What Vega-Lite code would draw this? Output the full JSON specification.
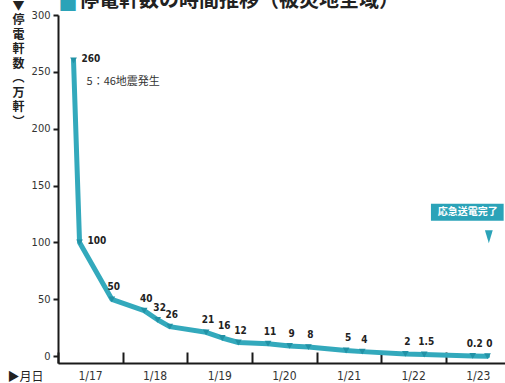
{
  "$schema": "https://vega.github.io/schema/vega-lite/v6.json",
  "width": 447,
  "height": 348,
  "autosize": {"type": "none"},
  "padding": {"left": 58, "top": 15, "right": 0, "bottom": 20},
  "background": "#ffffff",
  "title": {
    "text": "停電軒数の時間推移（被災地全域）",
    "anchor": "start",
    "frame": "group",
    "dx": 21,
    "dy": 13,
    "offset": -3,
    "font": "Noto Sans CJK JP",
    "fontSize": 20,
    "fontWeight": "bold",
    "color": "#222222"
  },
  "config": {
    "view": {"stroke": null},
    "axis": {
      "grid": false,
      "domainColor": "#1a1a1a",
      "domainWidth": 2,
      "tickColor": "#1a1a1a",
      "labelColor": "#333333",
      "labelFont": "Liberation Sans Narrow, DejaVu Sans Condensed, sans-serif",
      "titleFont": "Noto Sans CJK JP",
      "titleColor": "#222222",
      "titleFontWeight": "normal"
    }
  },
  "resolve": {"axis": {"x": "independent"}},
  "datasets": {
    "outage": [
      {"t": "1995-01-17T05:46", "v": 260},
      {"t": "1995-01-17T08:00", "v": 100},
      {"t": "1995-01-17T20:00", "v": 50},
      {"t": "1995-01-18T08:00", "v": 40},
      {"t": "1995-01-18T13:00", "v": 32},
      {"t": "1995-01-18T17:30", "v": 26},
      {"t": "1995-01-19T07:00", "v": 21},
      {"t": "1995-01-19T13:00", "v": 16},
      {"t": "1995-01-19T19:00", "v": 12},
      {"t": "1995-01-20T06:00", "v": 11},
      {"t": "1995-01-20T14:00", "v": 9},
      {"t": "1995-01-20T21:00", "v": 8},
      {"t": "1995-01-21T11:00", "v": 5},
      {"t": "1995-01-21T17:00", "v": 4},
      {"t": "1995-01-22T09:00", "v": 2},
      {"t": "1995-01-22T16:00", "v": 1.5},
      {"t": "1995-01-23T10:00", "v": 0.2},
      {"t": "1995-01-23T15:30", "v": 0}
    ],
    "notes": [
      {"t": "1995-01-17T05:46", "v": 260, "note": "5：46地震発生"}
    ],
    "callout": [
      {"t0": "1995-01-22T18:30", "t1": "1995-01-23T21:30", "v0": 119, "v1": 134, "tc": "1995-01-23T08:10", "vc": 126.5, "tp": "1995-01-23T16:00", "vp": 105, "label": "応急送電完了"}
    ]
  },
  "layer": [
    {
      "data": {"name": "outage"},
      "mark": {"type": "line", "color": "#33a9bc", "strokeWidth": 5, "strokeJoin": "round", "strokeCap": "round"},
      "encoding": {
        "x": {
          "field": "t",
          "type": "temporal",
          "scale": {"domain": [{"year": 1995, "month": 1, "date": 17}, {"year": 1995, "month": 1, "date": 23, "hours": 22}]},
          "axis": {
            "orient": "bottom",
            "title": "▶月日",
            "titleX": -33,
            "titleY": 13,
            "titleAlign": "center",
            "titleBaseline": "middle",
            "titleFontSize": 12,
            "values": [
              {"year": 1995, "month": 1, "date": 17},
              {"year": 1995, "month": 1, "date": 18},
              {"year": 1995, "month": 1, "date": 19},
              {"year": 1995, "month": 1, "date": 20},
              {"year": 1995, "month": 1, "date": 21},
              {"year": 1995, "month": 1, "date": 22},
              {"year": 1995, "month": 1, "date": 23}
            ],
            "format": "%-m/%-d",
            "labelOffset": 32,
            "labelFontSize": 12,
            "labelPadding": 18,
            "labelOverlap": false,
            "labelFlush": false,
            "tickSize": -11,
            "tickWidth": 2
          }
        },
        "y": {
          "field": "v",
          "type": "quantitative",
          "scale": {"domain": [-6, 300], "nice": false, "zero": false},
          "axis": {
            "values": [0, 50, 100, 150, 200, 250, 300],
            "labelFontSize": 11,
            "labelPadding": 3,
            "tickSize": 5,
            "tickWidth": 2,
            "title": ["▼", "停", "電", "軒", "数", "︵", "万", "軒", "︶"],
            "titleAngle": 0,
            "titleAlign": "center",
            "titleBaseline": "top",
            "titleX": -40,
            "titleY": -15,
            "titleFontSize": 12,
            "titleFontWeight": "bold",
            "titleLineHeight": 14.5
          }
        }
      }
    },
    {
      "data": {"name": "outage"},
      "mark": {"type": "point", "shape": "triangle-down", "filled": true, "opacity": 1, "color": "#2292a6", "size": 45},
      "encoding": {
        "x": {
          "field": "t",
          "type": "temporal",
          "axis": {
            "orient": "top",
            "title": "■",
            "domain": false,
            "ticks": false,
            "labels": false,
            "titleColor": "#2ba3b8",
            "titleFontSize": 19,
            "titleAlign": "left",
            "titleAnchor": "start",
            "titleBaseline": "alphabetic",
            "titleX": 0,
            "titleY": -5
          }
        },
        "y": {"field": "v", "type": "quantitative"}
      }
    },
    {
      "data": {"name": "outage"},
      "transform": [{"filter": "datum.v >= 100"}],
      "mark": {"type": "text", "align": "left", "baseline": "middle", "dx": 8, "dy": -1, "font": "Liberation Sans Narrow, DejaVu Sans Condensed, sans-serif", "fontWeight": "bold", "fontSize": 10, "color": "#222222"},
      "encoding": {
        "x": {"field": "t", "type": "temporal", "axis": null},
        "y": {"field": "v", "type": "quantitative"},
        "text": {"field": "v", "type": "nominal"}
      }
    },
    {
      "data": {"name": "outage"},
      "transform": [{"filter": "datum.v < 100"}],
      "mark": {"type": "text", "align": "center", "baseline": "middle", "dx": 2, "dy": -12, "font": "Liberation Sans Narrow, DejaVu Sans Condensed, sans-serif", "fontWeight": "bold", "fontSize": 10, "color": "#222222"},
      "encoding": {
        "x": {"field": "t", "type": "temporal", "axis": null},
        "y": {"field": "v", "type": "quantitative"},
        "text": {"field": "v", "type": "nominal"}
      }
    },
    {
      "data": {"name": "notes"},
      "mark": {"type": "text", "align": "left", "baseline": "middle", "dx": 13, "dy": 22, "font": "Noto Sans CJK JP", "fontSize": 11, "color": "#333333"},
      "encoding": {
        "x": {"field": "t", "type": "temporal", "axis": null},
        "y": {"field": "v", "type": "quantitative"},
        "text": {"field": "note", "type": "nominal"}
      }
    },
    {
      "data": {"name": "callout"},
      "mark": {"type": "rect", "color": "#2ba3b8", "clip": false},
      "encoding": {
        "x": {"field": "t0", "type": "temporal", "axis": null},
        "x2": {"field": "t1"},
        "y": {"field": "v0", "type": "quantitative"},
        "y2": {"field": "v1"}
      }
    },
    {
      "data": {"name": "callout"},
      "mark": {"type": "text", "align": "center", "baseline": "middle", "font": "Noto Sans CJK JP", "fontWeight": "bold", "fontSize": 10, "color": "#ffffff"},
      "encoding": {
        "x": {"field": "tc", "type": "temporal", "axis": null},
        "y": {"field": "vc", "type": "quantitative"},
        "text": {"field": "label", "type": "nominal"}
      }
    },
    {
      "data": {"name": "callout"},
      "mark": {"type": "point", "shape": "M-0.6,-1L0.6,-1L0,1Z", "filled": true, "opacity": 1, "color": "#2ba3b8", "size": 169},
      "encoding": {
        "x": {"field": "tp", "type": "temporal", "axis": null},
        "y": {"field": "vp", "type": "quantitative"}
      }
    }
  ]
}
